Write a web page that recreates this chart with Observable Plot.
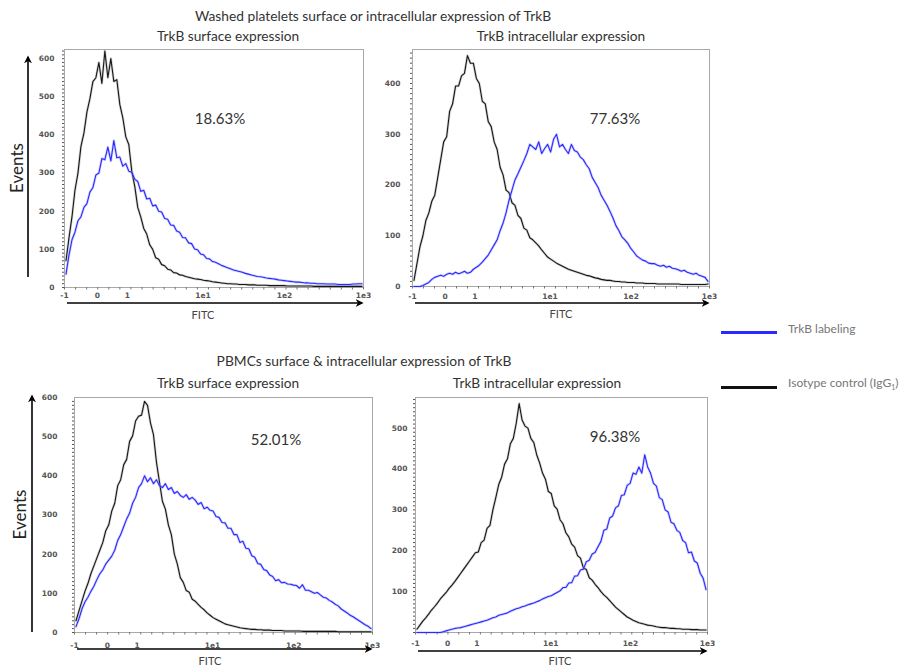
<!DOCTYPE html>
<html>
<head>
<meta charset="utf-8">
<script src="https://cdn.jsdelivr.net/npm/d3@7"></script>
<script src="https://cdn.jsdelivr.net/npm/@observablehq/plot@0.6"></script>
<style>
  body { margin: 0; background: #fff; }
  #page { position: relative; width: 903px; height: 671px; overflow: hidden; font-family: Lato, "Open Sans", sans-serif; color: #333; }
  .t { position: absolute; white-space: nowrap; transform: translate(-50%, -50%); }
  .panel { position: absolute; }
  .leg { position: absolute; white-space: nowrap; font-size: 12px; color: #777; transform: translateY(-50%); }
  .legline { position: absolute; height: 3px; }
</style>
</head>
<body>
<div id="page"></div>
<script>
// ---------------- data ----------------
// x axis: 100 histogram bins across the FITC (biexponential) display
const xTickLabels = ["-1", "0", "1", "1e1", "1e2", "1e3"];
const xTickBins = [0, 11, 21, 46.3, 73.6, 100];

const yTicks600 = [0, 100, 200, 300, 400, 500, 600];
const yTicks400 = [0, 100, 200, 300, 400];
const yTicks500 = [100, 200, 300, 400, 500];

const groupTitles = ["Washed platelets surface or intracellular expression of TrkB", "PBMCs surface & intracellular expression of TrkB"];
const panelTitles = ["TrkB surface expression", "TrkB intracellular expression", "TrkB surface expression", "TrkB intracellular expression"];
const percentPositive = ["18.63%", "77.63%", "52.01%", "96.38%"];
const seriesNames = ["TrkB labeling", "Isotype control (IgG", ")"];

// Platelets, surface
const plateletSurfaceIsotype = [
  70, 130, 185, 255, 300, 370, 405, 460, 495, 540,
  550, 590, 535, 620, 550, 600, 540, 545, 480, 445,
  395, 375, 305, 265, 210, 185, 155, 140, 112, 100,
  78, 74, 60, 57, 48, 46, 39, 38, 33, 32,
  29, 27, 25, 23, 22, 21, 19, 18, 17, 15,
  14, 13, 12, 11, 10, 10, 9, 9, 8, 8,
  8, 7, 7, 7, 6, 6, 6, 6, 5, 5,
  5, 5, 5, 5, 4, 4, 4, 4, 4, 4,
  4, 4, 4, 3, 3, 3, 3, 3, 3, 3,
  3, 3, 3, 3, 3, 3, 3, 3, 3, 3];
const plateletSurfaceTrkB = [
  35, 85, 125, 145, 175, 185, 210, 220, 250, 262,
  295, 300, 338, 335, 368, 332, 385, 340, 342, 318,
  325, 305, 302, 284, 278, 252, 255, 232, 234, 214,
  216, 200, 198, 181, 179, 164, 163, 148, 145, 131,
  130, 117, 115, 101, 99, 88, 86, 76, 75, 68,
  66, 62, 58, 55, 52, 49, 46, 44, 42, 40,
  37, 35, 33, 31, 29, 28, 27, 25, 24, 23,
  22, 20, 19, 18, 17, 16, 15, 14, 14, 13,
  12, 12, 11, 11, 10, 10, 10, 9, 9, 9,
  9, 8, 8, 8, 8, 8, 9, 9, 10, 10];

// Platelets, intracellular
const plateletIntraIsotype = [
  12, 45, 78, 100, 130, 145, 168, 180, 215, 250,
  285, 295, 345, 360, 395, 395, 415, 420, 455, 440,
  440, 410, 400, 365, 360, 325, 315, 285, 270, 235,
  220, 190, 185, 165, 160, 140, 134, 115, 111, 96,
  92, 86, 80, 72, 65, 58, 54, 50, 46, 43,
  40, 37, 34, 32, 30, 28, 26, 24, 22, 21,
  19, 17, 16, 14, 13, 12, 12, 11, 10, 10,
  9, 9, 8, 8, 8, 7, 7, 7, 6, 6,
  6, 6, 5, 5, 5, 5, 5, 5, 5, 5,
  4, 4, 4, 4, 4, 4, 4, 4, 4, 5];
const plateletIntraTrkB = [
  0, 0, 0, 2, 5, 8, 14, 18, 20, 22,
  20, 24, 26, 24, 28, 25, 27, 30, 26, 28,
  34, 38, 42, 48, 55, 62, 72, 82, 92, 110,
  125, 145, 170, 190, 210, 222, 235, 248, 262, 280,
  275, 270, 285, 262, 272, 280, 265, 290, 300, 275,
  280, 270, 262, 280, 268, 265, 255, 250, 240, 232,
  215, 205, 195, 180, 170, 160, 148, 135, 120, 110,
  98, 92, 85, 75, 68, 60, 56, 52, 50, 46,
  45, 45, 42, 40, 42, 38, 40, 36, 35, 33,
  30, 32, 28, 26, 24, 26, 22, 20, 18, 10];

// PBMCs, surface
const pbmcSurfaceIsotype = [
  30, 55, 80, 105, 125, 150, 170, 190, 210, 230,
  260, 275, 310, 330, 375, 390, 428, 442, 488, 502,
  540, 552, 555, 590, 580, 535, 505, 435, 385, 335,
  315, 275, 250, 200, 175, 140, 128, 107, 103, 85,
  80, 72, 64, 58, 50, 44, 38, 34, 30, 26,
  22, 20, 18, 16, 14, 12, 11, 10, 9, 8,
  8, 7, 7, 6, 6, 6, 5, 5, 5, 5,
  4, 4, 4, 4, 4, 4, 3, 3, 3, 3,
  3, 3, 3, 3, 3, 3, 3, 3, 2, 2,
  2, 2, 2, 2, 2, 2, 2, 2, 2, 2];
const pbmcSurfaceTrkB = [
  15, 35, 60, 78, 90, 105, 118, 135, 150, 160,
  175, 185, 195, 210, 235, 250, 270, 290, 305, 330,
  345, 370, 380, 400, 385, 395, 380, 390, 375, 370,
  380, 365, 370, 355, 360, 350, 345, 352, 340, 345,
  338, 327, 332, 316, 320, 312, 310, 296, 294, 281,
  280, 266, 266, 250, 250, 230, 233, 215, 214, 196,
  192, 176, 174, 161, 158, 147, 143, 132, 135, 127,
  128, 124, 123, 121, 120, 113, 122, 108, 108, 104,
  100, 102, 96, 90, 88, 82, 78, 72, 68, 60,
  55, 50, 44, 40, 35, 30, 25, 20, 16, 10];

// PBMCs, intracellular
const pbmcIntraIsotype = [
  8, 18, 28, 36, 45, 55, 63, 72, 82, 90,
  98, 108, 116, 125, 135, 145, 155, 165, 175, 185,
  195, 197, 220, 226, 255, 262, 300, 330, 362, 380,
  412, 425, 462, 475, 512, 560, 520, 505, 500, 475,
  465, 435, 415, 390, 375, 345, 340, 310, 302, 276,
  266, 244, 234, 216, 209, 188, 182, 158, 154, 134,
  128, 118, 110, 100, 92, 86, 78, 70, 62, 56,
  50, 44, 38, 34, 30, 27, 24, 22, 20, 18,
  17, 16, 14, 13, 12, 12, 11, 10, 10, 9,
  9, 8, 8, 8, 7, 7, 7, 6, 6, 6];
const pbmcIntraTrkB = [
  0, 0, 0, 0, 0, 0, 0, 0, 0, 2,
  4, 6, 8, 10, 11, 12, 14, 16, 18, 20,
  22, 24, 26, 28, 30, 33, 36, 38, 42, 44,
  46, 48, 52, 55, 58, 60, 63, 65, 68, 70,
  72, 75, 78, 82, 85, 88, 90, 94, 98, 102,
  110, 110, 121, 122, 138, 139, 153, 155, 173, 177,
  192, 196, 210, 223, 250, 253, 280, 285, 305, 310,
  335, 337, 360, 365, 390, 387, 405, 390, 435, 405,
  390, 365, 358, 330, 325, 300, 295, 270, 266, 250,
  245, 225, 220, 195, 197, 175, 170, 145, 133, 105];

// ---------------- layout ----------------
const panels = [
  {iso: plateletSurfaceIsotype, trkb: plateletSurfaceTrkB, yMax: 624, yTicks: yTicks600,
   left: 0, top: 40, width: 375, height: 285, ml: 64, yPad: 10, xPad: 5, arrowDy: 16,
   events: {dx: -36, textDx: -45, bottomDy: -10, topDy: 8}},
  {iso: plateletIntraIsotype, trkb: plateletIntraTrkB, yMax: 467, yTicks: yTicks400,
   left: 380, top: 40, width: 341, height: 284, ml: 32, yPad: 12, xPad: 7, arrowDy: 17, events: null},
  {iso: pbmcSurfaceIsotype, trkb: pbmcSurfaceTrkB, yMax: 600, yTicks: yTicks600,
   left: 0, top: 388, width: 384, height: 282, ml: 74, yPad: 17, xPad: 10, arrowDy: 17,
   events: {dx: -42, textDx: -52, bottomDy: 0, topDy: -1}},
  {iso: pbmcIntraIsotype, trkb: pbmcIntraTrkB, yMax: 575, yTicks: yTicks500,
   left: 380, top: 388, width: 339, height: 282, ml: 35, yPad: 8, xPad: 8, arrowDy: 19, events: null}
];

const page = document.getElementById("page");
const BLUE = "#2a2aff";
const BLACK = "#161616";

function addText(txt, x, y, size, extra = {}) {
  const d = document.createElement("div");
  d.className = "t";
  d.style.left = x + "px";
  d.style.top = y + "px";
  d.style.fontSize = size + "px";
  Object.assign(d.style, extra);
  d.textContent = txt;
  page.appendChild(d);
  return d;
}

panels.forEach((p, k) => {
  const toRows = arr => arr.map((v, i) => ({bin: i + 0.5, count: v}));
  const isoRows = toRows(p.iso);
  const trkRows = toRows(p.trkb);
  const minorY = d3.range(0, p.yMax, 10);
  const minorX = d3.range(0, 100.01, 100 / 27);

  const plot = Plot.plot({
    width: p.width,
    height: p.height,
    marginLeft: p.ml,
    marginRight: 12,
    marginTop: 9,
    marginBottom: 38,
    x: {domain: [0, 100]},
    y: {domain: [0, p.yMax]},
    style: {fontFamily: "DejaVu Sans", fontSize: "7.5px", fontWeight: "bold", color: "#555", background: "transparent", overflow: "visible"},
    marks: [
      Plot.frame({stroke: "#a8a8a8"}),
      Plot.axisY(minorY, {tickSize: 2, tickFormat: () => "", label: null, stroke: "#555"}),
      Plot.axisY(p.yTicks, {tickSize: 0, tickPadding: p.yPad, label: null}),
      Plot.axisX(minorX, {tickSize: 2.5, tickFormat: () => "", label: null, stroke: "#777"}),
      Plot.axisX(xTickBins, {tickSize: 0, tickPadding: p.xPad, tickFormat: (d, i) => xTickLabels[i], label: null}),
      Plot.line(isoRows, {x: "bin", y: "count", stroke: "#888", strokeWidth: 2.6, strokeOpacity: 0.35}),
      Plot.line(isoRows, {x: "bin", y: "count", stroke: BLACK, strokeWidth: 1.1}),
      Plot.line(trkRows, {x: "bin", y: "count", stroke: "#8c8cff", strokeWidth: 2.6, strokeOpacity: 0.4}),
      Plot.line(trkRows, {x: "bin", y: "count", stroke: BLUE, strokeWidth: 1.1})
    ]
  });

  // decorations from the plot's own scales
  const [x0, x1] = plot.scale("x").range;
  const [yBottom, yTop] = plot.scale("y").range;
  const svg = d3.select(plot);
  const mid = "ah" + k;
  const defs = svg.append("defs");
  defs.append("marker").attr("id", mid).attr("viewBox", "0 0 10 10")
    .attr("refX", 8).attr("refY", 5).attr("markerWidth", 8).attr("markerHeight", 8)
    .attr("markerUnits", "userSpaceOnUse").attr("orient", "auto")
    .append("path").attr("d", "M0,0 L10,5 L0,10 L3,5 z").attr("fill", "#000");

  const ay = yBottom + p.arrowDy;
  svg.append("line").attr("x1", x0 + 3).attr("x2", x1 - 1).attr("y1", ay).attr("y2", ay)
    .attr("stroke", "#000").attr("stroke-width", 1.6).attr("marker-end", `url(#${mid})`);

  if (p.events) {
    const ex = x0 + p.events.dx;
    svg.append("line").attr("x1", ex).attr("x2", ex)
      .attr("y1", yBottom + p.events.bottomDy).attr("y2", yTop + p.events.topDy)
      .attr("stroke", "#000").attr("stroke-width", 1.6).attr("marker-end", `url(#${mid})`);
    const tx = x0 + p.events.textDx, ty = (yBottom + yTop) / 2;
    svg.append("text").attr("transform", `translate(${tx},${ty}) rotate(-90)`)
      .attr("text-anchor", "middle").attr("dominant-baseline", "middle")
      .style("font-family", "Lato, sans-serif").style("font-size", "17px").style("font-weight", "normal")
      .attr("fill", "#222").text("Events");
  }

  const wrap = document.createElement("div");
  wrap.className = "panel";
  wrap.style.left = p.left + "px";
  wrap.style.top = p.top + "px";
  wrap.appendChild(plot);
  page.appendChild(wrap);
});

// ---------------- titles & labels ----------------
addText(groupTitles[0], 373, 15, 13.8);
addText(panelTitles[0], 228, 35, 13.7);
addText(panelTitles[1], 561, 35, 13.7);
addText(groupTitles[1], 364, 360, 13.8);
addText(panelTitles[2], 228, 382, 13.7);
addText(panelTitles[3], 537, 382, 13.7);

addText(percentPositive[0], 220, 118, 15);
addText(percentPositive[1], 615, 118, 15);
addText(percentPositive[2], 276, 439, 15);
addText(percentPositive[3], 615, 436, 15);

addText("FITC", 203, 314, 11, {color: "#444"});
addText("FITC", 561, 313, 11, {color: "#444"});
addText("FITC", 210, 660, 11, {color: "#444"});
addText("FITC", 560, 660, 11, {color: "#444"});

// ---------------- legend ----------------
function legendItem(color, y, label, sub) {
  const l = document.createElement("div");
  l.className = "legline";
  l.style.left = "721px"; l.style.width = "56px"; l.style.top = (y - 1.5) + "px";
  l.style.background = color;
  page.appendChild(l);
  const t = document.createElement("div");
  t.className = "leg";
  t.style.left = "788px"; t.style.top = (y - 4) + "px";
  t.textContent = label;
  if (sub) {
    const s = document.createElement("sub");
    s.textContent = "1";
    s.style.fontSize = "7px";
    t.appendChild(s);
    t.appendChild(document.createTextNode(seriesNames[2]));
  }
  page.appendChild(t);
}
legendItem(BLUE, 332, seriesNames[0], false);
legendItem("#111", 387, seriesNames[1], true);
</script>
</body>
</html>
